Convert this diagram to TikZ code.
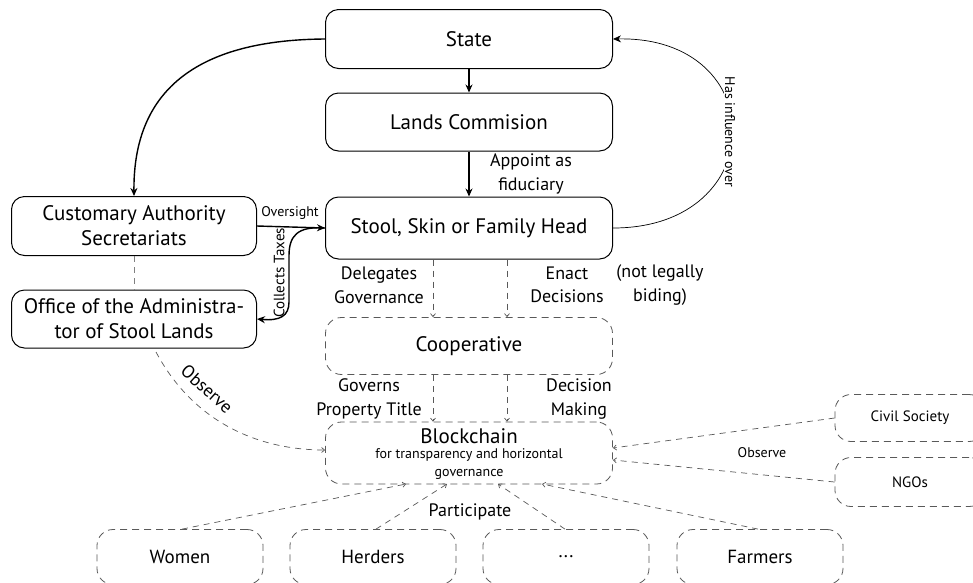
\documentclass[tikz,border=0pt]{standalone}
\usepackage{fontspec}
\setmainfont{PT Sans}
\usetikzlibrary{arrows.meta,calc}
\begin{document}
\begin{tikzpicture}[x=1pt,y=-1pt,
  solidbox/.style={draw,line width=1pt,rounded corners=13pt,align=center,inner sep=0pt,font=\fontsize{21}{25}\selectfont},
  dashbox/.style={draw=black!65,line width=0.8pt,dash pattern=on 7pt off 5pt,rounded corners=16pt,align=center,inner sep=0pt,font=\fontsize{21}{25}\selectfont},
  thick arrow/.style={line width=1.4pt,-{Stealth[length=8pt,width=7pt]}},
  thin arrow/.style={line width=0.7pt,-{Stealth[length=8pt,width=7pt]}},
  dash line/.style={draw=black!65,line width=0.7pt,dash pattern=on 6pt off 5pt},
  dash arrow/.style={dash line,-{Straight Barb[length=3pt,width=5pt]}},
  lbl/.style={align=center,inner sep=1pt,font=\fontsize{18}{23.5}\selectfont},
  smalllbl/.style={inner sep=1pt,font=\fontsize{14}{16}\selectfont}
]
\useasboundingbox (0,0) rectangle (973,582);
\clip (0,0) rectangle (973,582);
\fill[white] (0,0) rectangle (973,582);

% solid boxes
\node[solidbox,minimum width=287pt,minimum height=59pt] (state) at (469,39) {State};
\node[solidbox,minimum width=287pt,minimum height=58pt] (lands) at (469,122) {Lands Commision};
\node[solidbox,minimum width=287pt,minimum height=62pt] (stool) at (469,228) {Stool, Skin or Family Head};
\node[solidbox,minimum width=245pt,minimum height=59pt] (cust) at (134,226) {Customary Authority\\Secretariats};
\node[solidbox,minimum width=245pt,minimum height=58pt] (office) at (134,319) {Office of the Administra-\\tor of Stool Lands};

% dashed boxes
\node[dashbox,minimum width=287pt,minimum height=57pt] (coop) at (469,346) {Cooperative};
\node[dashbox,minimum width=287pt,minimum height=62pt] (block) at (469,453) {};
\node[font=\fontsize{21}{25}\selectfont,inner sep=0pt] (blocktitle) at (469,436) {Blockchain};
\node[align=center,inner sep=0pt,font=\fontsize{14}{17.5}\selectfont] (blocksub) at (469,464) {for transparency and horizontal\\governance};
\node[dashbox,minimum width=150pt,minimum height=47pt,font=\fontsize{15}{18}\selectfont] (civil) at (910,418) {Civil Society};
\node[dashbox,minimum width=150pt,minimum height=49pt,font=\fontsize{15}{18}\selectfont] (ngo) at (910,482) {NGOs};
\node[dashbox,minimum width=166pt,minimum height=55pt,font=\fontsize{19}{22}\selectfont] (women) at (180,557) {Women};
\node[dashbox,minimum width=166pt,minimum height=55pt,font=\fontsize{19}{22}\selectfont] (herders) at (373,557) {Herders};
\node[dashbox,minimum width=166pt,minimum height=55pt,font=\fontsize{19}{22}\selectfont] (dots) at (566,557) {...};
\node[dashbox,minimum width=166pt,minimum height=55pt,font=\fontsize{19}{22}\selectfont] (farmers) at (760,557) {Farmers};

% solid connectors
\draw[thick arrow] (state.south) -- (lands.north);
\draw[thick arrow] (lands.south) -- (stool.north);
\node[lbl] (appoint) at (531,174) {Appoint as\\fiduciary};
\draw[thick arrow] (state.west) .. controls (185,40) and (133,100) .. (cust.north);
\draw[thick arrow] (cust.east) -- (stool.west);
\node[smalllbl] (oversight) at (290,213) {Oversight};
\draw[thick arrow] (stool.west) .. controls (297,226) and (289,236) .. (289,256)
   -- (289,302) .. controls (289,316) and (280,321) .. (office.east);
\node[smalllbl,rotate=90,font=\fontsize{15}{17}\selectfont] (taxes) at (279,273) {Collects Taxes};
\draw[thin arrow] (stool.east) .. controls (772,228) and (772,36) .. (state.east);
\node[smalllbl,rotate=-90,fill=white,font=\fontsize{14}{16}\selectfont] (influence) at (730,132) {Has influence over};

% dashed connectors
\draw[dash line,black!50] (cust.south) -- (office.north);
\draw[dash arrow] ($(stool.south)+(-36,0)$) coordinate (s1) -- (s1 |- coop.north);
\draw[dash arrow] ($(stool.south)+(38,0)$) coordinate (s2) -- (s2 |- coop.north);
\node[lbl] (deleg) at (379,285) {Delegates\\Governance};
\node[lbl] (enact) at (567,285) {Enact\\Decisions};
\node[lbl] (notlegal) at (660,285) {(not legally\\biding)};
\draw[dash arrow] ($(coop.south)+(-36,0)$) coordinate (c1) -- (c1 |- block.north);
\draw[dash arrow] ($(coop.south)+(38,0)$) coordinate (c2) -- (c2 |- block.north);
\node[lbl] (governs) at (369,399) {Governs\\Property Title};
\node[lbl] (decmak) at (579,399) {Decision\\Making};
\draw[dash arrow] (156,352) .. controls (195,425) and (262,450) .. ($(block.west)+(0,-3)$);
\node[lbl,rotate=-42] (obs1) at (207,389) {Observe};
\draw[dash arrow] (civil.west) -- ($(block.east)+(0,-5)$);
\draw[dash arrow] (ngo.west) -- ($(block.east)+(0,7)$);
\node[smalllbl] (obs2) at (762,453) {Observe};
\draw[dash arrow] ($(women.north)+(2,0)$) -- (406,484);
\draw[dash arrow] ($(herders.north)+(3,0)$) -- (447,484);
\draw[dash arrow] ($(dots.north)+(-1,0)$) -- (498,484);
\draw[dash arrow] ($(farmers.north)+(-2,0)$) -- (542,484);
\node[lbl] (particip) at (470,512) {Participate};
\end{tikzpicture}
\end{document}
